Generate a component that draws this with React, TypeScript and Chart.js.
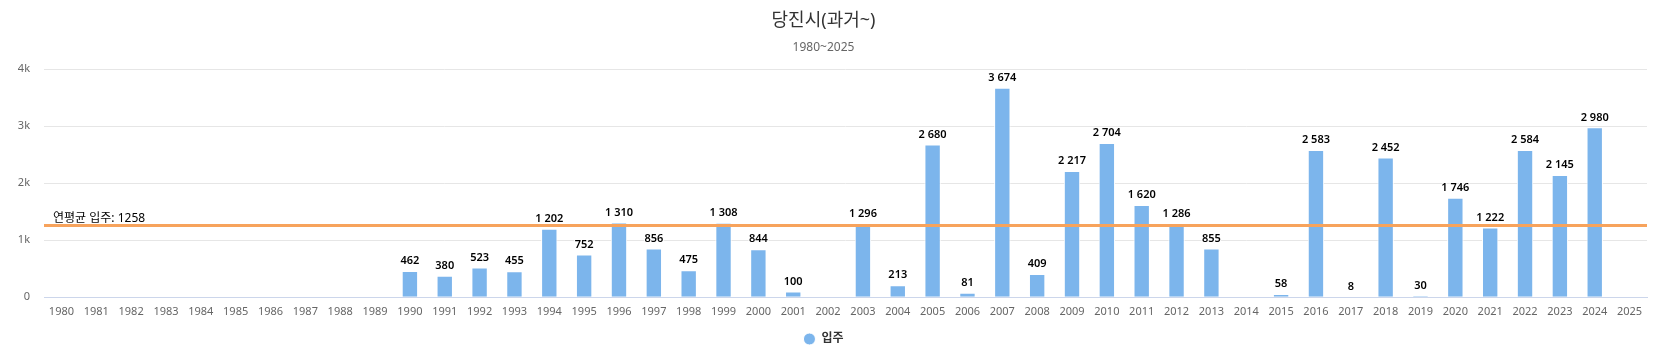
import React, { useEffect, useRef } from "react";
import { Chart, registerables } from "chart.js";

Chart.register(...registerables);

const YEARS = [
  "1980", "1981", "1982", "1983", "1984", "1985", "1986", "1987", "1988", "1989",
  "1990", "1991", "1992", "1993", "1994", "1995", "1996", "1997", "1998", "1999",
  "2000", "2001", "2002", "2003", "2004", "2005", "2006", "2007", "2008", "2009",
  "2010", "2011", "2012", "2013", "2014", "2015", "2016", "2017", "2018", "2019",
  "2020", "2021", "2022", "2023", "2024", "2025",
];

const MOVE_IN: (number | null)[] = [
  null, null, null, null, null, null, null, null, null, null,
  462, 380, 523, 455, 1202, 752, 1310, 856, 475, 1308,
  844, 100, null, 1296, 213, 2680, 81, 3674, 409, 2217,
  2704, 1620, 1286, 855, null, 58, 2583, 8, 2452, 30,
  1746, 1222, 2584, 2145, 2980, null,
];

const Y_TICKS = [0, 1000, 2000, 3000, 4000];
const Y_TICK_LABELS = ["0", "1k", "2k", "3k", "4k"];
const AVERAGE = 1258;
const AVERAGE_LABEL = "연평균 입주: " + AVERAGE;

const TITLE = "당진시(과거~)";
const SUBTITLE = "1980~2025";
const SERIES_NAME = "입주";

const FONT = '"Noto Sans", "Noto Sans CJK KR", sans-serif';

const fmt = (v: number) => String(v).replace(/\B(?=(\d{3})+(?!\d))/g, " ");

const overlayPlugin = {
  id: "overlay",
  afterDatasetsDraw(chart: any) {
    const { ctx, chartArea, scales } = chart;
    const y = scales.y.getPixelForValue(AVERAGE);
    ctx.save();
    // average plot line
    ctx.strokeStyle = "#f7a35c";
    ctx.lineWidth = 3;
    ctx.beginPath();
    ctx.moveTo(chartArea.left, y);
    ctx.lineTo(chartArea.right, y);
    ctx.stroke();
    ctx.font = "12px " + FONT;
    ctx.fillStyle = "#000000";
    ctx.textAlign = "left";
    ctx.textBaseline = "alphabetic";
    ctx.fillText(AVERAGE_LABEL, chartArea.left + 9, y - 3.5);

    // data labels
    const meta = chart.getDatasetMeta(0);
    ctx.font = "600 11px " + FONT;
    ctx.textAlign = "center";
    ctx.textBaseline = "middle";
    ctx.lineJoin = "round";
    meta.data.forEach((bar: any, i: number) => {
      const v = MOVE_IN[i];
      if (v === null || v === undefined) return;
      const text = fmt(v);
      const ty = bar.y - 10;
      ctx.strokeStyle = "#ffffff";
      ctx.lineWidth = 2;
      ctx.strokeText(text, bar.x, ty);
      ctx.fillStyle = "#000000";
      ctx.fillText(text, bar.x, ty);
    });
    ctx.restore();
  },
};

export default function App() {
  const ref = useRef<HTMLCanvasElement | null>(null);

  useEffect(() => {
    if (!ref.current) return;
    const chart = new Chart(ref.current, {
      type: "bar",
      data: {
        labels: YEARS,
        datasets: [
          {
            label: SERIES_NAME,
            data: MOVE_IN,
            backgroundColor: "#7cb5ec",
            borderColor: "#ffffff",
            borderWidth: 1,
            borderSkipped: "bottom",
            categoryPercentage: 1,
            barPercentage: 0.47,
          },
        ],
      },
      options: {
        responsive: false,
        animation: false,
        devicePixelRatio: 1,
        layout: { padding: { left: 0, right: 10, top: 0, bottom: 9 } },
        plugins: {
          title: {
            display: true,
            text: TITLE,
            color: "#333333",
            font: { family: FONT, size: 18, weight: "normal" },
            padding: { top: 10.5, bottom: 6 },
          },
          subtitle: {
            display: true,
            text: SUBTITLE,
            color: "#666666",
            font: { family: FONT, size: 12, weight: "normal" },
            padding: { top: 2.7, bottom: 14 },
          },
          legend: {
            display: true,
            position: "bottom",
            labels: {
              usePointStyle: true,
              pointStyle: "circle",
              boxWidth: 12,
              boxHeight: 8.5,
              padding: 10,
              color: "#333333",
              font: { family: FONT, size: 12, weight: "bold" },
            },
          },
          tooltip: { enabled: false },
        },
        scales: {
          x: {
            grid: { display: false, drawTicks: false },
            border: { display: true, color: "#ccd6eb", width: 1 },
            ticks: {
              autoSkip: false,
              maxRotation: 0,
              minRotation: 0,
              padding: 8,
              color: "#666666",
              font: { family: FONT, size: 11 },
            },
            afterFit: (scale: any) => {
              scale.height = 25.7;
            },
          },
          y: {
            min: 0,
            max: 4000,
            afterBuildTicks: (scale: any) => {
              scale.ticks = Y_TICKS.map((v) => ({ value: v }));
            },
            grid: { color: "#e6e6e6", drawTicks: false },
            border: { display: false },
            ticks: {
              padding: 14,
              color: "#666666",
              font: { family: FONT, size: 11 },
              callback: (v: any) => {
                const idx = Y_TICKS.indexOf(Number(v));
                return idx >= 0 ? Y_TICK_LABELS[idx] : "";
              },
            },
            afterFit: (scale: any) => {
              scale.width = 44;
            },
          },
        },
      },
      plugins: [overlayPlugin],
    });
    return () => chart.destroy();
  }, []);

  return (
    <div style={{ position: "fixed", left: 0, top: 0, width: 1657, height: 364, background: "#ffffff" }}>
      <canvas ref={ref} width={1657} height={364} style={{ width: 1657, height: 364, display: "block" }} />
    </div>
  );
}
